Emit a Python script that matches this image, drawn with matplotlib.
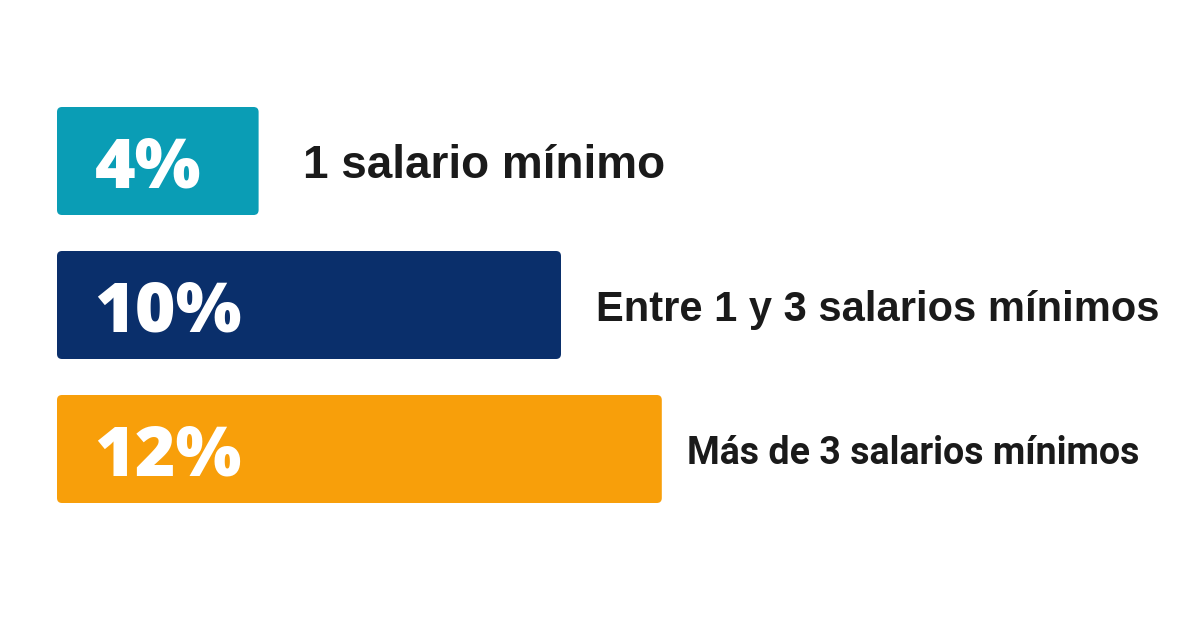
import matplotlib
matplotlib.use('Agg')
import matplotlib.pyplot as plt
from matplotlib.patches import FancyBboxPatch

# datos
categorias = ['1 salario mínimo', 'Entre 1 y 3 salarios mínimos', 'Más de 3 salarios mínimos']
porcentajes = [4, 10, 12]
etiquetas_pct = ['4%', '10%', '12%']
colores = ['#0a9db5', '#0a2f6b', '#f89f0a']

W, H = 1200, 628
fig = plt.figure(figsize=(W / 100, H / 100), dpi=100)
fig.patch.set_facecolor('white')
ax = fig.add_axes([0, 0, 1, 1])

px_x = 50.4        # pixels per percentage unit
px_y = 144.0       # pixels per bar row
x0, y0 = 57, 161   # pixel position of value 0 / first row centre
ax.set_xlim(-x0 / px_x, (W - x0) / px_x)
ax.set_ylim(2 + (H - 449) / px_y, -y0 / px_y)
ax.axis('off')

bars = ax.barh(range(len(porcentajes)), porcentajes, height=0.75, color=colores)

# redondear esquinas
r = 5 / px_x
for b in bars:
    b.set_visible(False)
    ax.add_patch(FancyBboxPatch(
        (b.get_x(), b.get_y()), b.get_width(), b.get_height(),
        boxstyle=f'round,pad=0,rounding_size={r}',
        mutation_aspect=px_x / px_y,
        facecolor=b.get_facecolor(), edgecolor='none'))

tamanos = [33, 30, 27]
fam_label = [['Liberation Sans', 'DejaVu Sans'], ['Liberation Sans', 'DejaVu Sans'],
             ['Liberation Sans Narrow', 'Roboto', 'DejaVu Sans']]
gaps = [32, 25, 18]

for i, (v, txt, cat) in enumerate(zip(porcentajes, etiquetas_pct, categorias)):
    ax.annotate(txt, xy=(0, i), xytext=(27, 0), textcoords='offset points',
                ha='left', va='center_baseline', color='white',
                fontsize=50, fontweight='heavy',
                family=['Open Sans', 'DejaVu Sans'])
    ax.annotate(cat, xy=(v, i), xytext=(gaps[i], 0), textcoords='offset points',
                ha='left', va='center_baseline', color='#1a1a1a',
                fontsize=tamanos[i], fontweight='bold', family=fam_label[i])

fig.savefig('out.png', dpi=100, facecolor='white')
